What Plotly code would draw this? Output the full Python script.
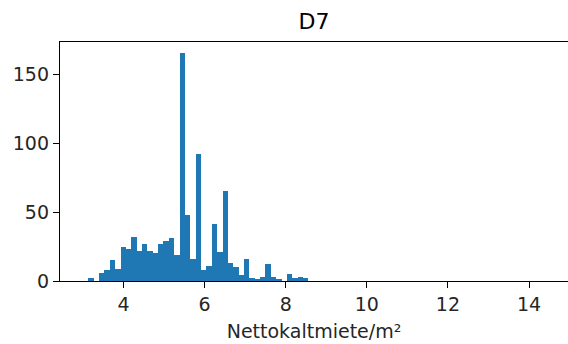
import plotly.graph_objects as go

# Histogram of Nettokaltmiete/m² for D7
bin_start = 3.135
bin_width = 0.1323
counts = [2, 0, 6, 8, 15, 9, 25, 23, 32, 22, 27, 22, 20, 27, 29, 31, 19, 165,
          48, 16, 92, 8, 11, 41, 21, 65, 13, 10, 4, 16, 2, 1, 3, 12, 3, 1, 0,
          5, 2, 3, 2]
x_ticks = [4, 6, 8, 10, 12, 14]
y_ticks = [0, 50, 100, 150]
title_text = "D7"
x_label = "Nettokaltmiete/m²"

centers = [bin_start + (i + 0.5) * bin_width for i in range(len(counts))]

fig = go.Figure(go.Bar(
    x=centers, y=counts, width=[bin_width] * len(counts),
    marker=dict(color="#1f77b4", line=dict(width=0)),
    hoverinfo="x+y",
))

font = dict(family="DejaVu Sans", size=19, color="#262626")
axis_common = dict(
    showgrid=False, zeroline=False, showline=True, linecolor="black",
    linewidth=1.3, mirror=True, ticks="outside", ticklen=6, tickwidth=1.3,
    tickcolor="black", tickfont=font,
)

fig.update_layout(
    width=568, height=344,
    margin=dict(l=60, r=0, t=42, b=63),
    paper_bgcolor="white", plot_bgcolor="white",
    bargap=0, showlegend=False,
    title=dict(text=title_text, x=0.5, xref="paper", xanchor="center",
               y=1 - 21 / 344, yanchor="middle",
               font=dict(family="DejaVu Sans", size=22, color="black")),
    xaxis=dict(range=[2.436, 14.96], tickvals=x_ticks,
               title=dict(text=x_label, font=font, standoff=10), **axis_common),
    yaxis=dict(range=[0, 173.25], tickvals=y_ticks, **axis_common),
)

fig.write_html("out.html")
